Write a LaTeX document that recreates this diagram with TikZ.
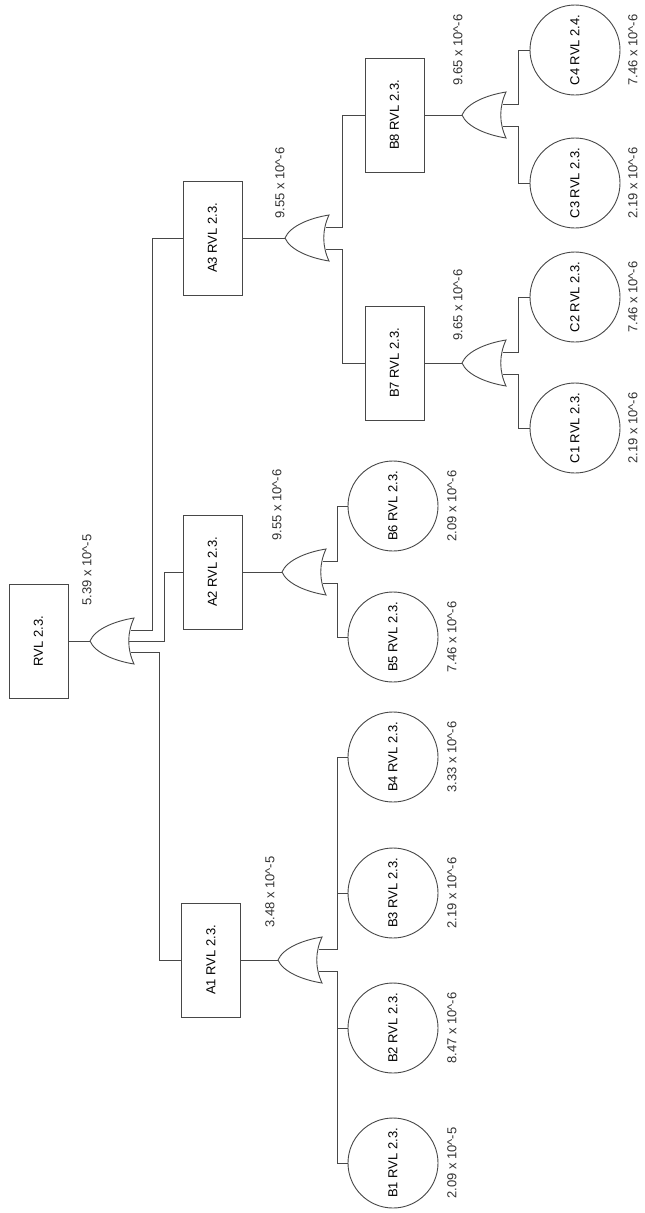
\documentclass[tikz,border=0pt]{standalone}
\usepackage{fontspec}
\setmainfont{Liberation Sans}
\usetikzlibrary{calc}

\newcommand{\fsz}{\fontsize{13}{15}\selectfont}
\newcommand{\rt}[1]{\rotatebox{90}{#1}}	%text read from bottom to top

\tikzset{
	wire/.style={draw=black!72, line width=0.9pt},
	evtbox/.style={wire, rectangle, minimum width=59pt, minimum height=114pt, inner sep=0pt, font=\fsz},
	basic/.style={wire, circle, minimum size=90pt, inner sep=0pt, font=\fsz},
	prob/.style={rotate=90, inner sep=0pt, font=\fsz, text=black!80},
	orgate/.pic={
		\draw[wire] (0,0) .. controls (5,-12) and (25,-20) .. (44,-23)
			.. controls (37,-8) and (37,8) .. (44,23)
			.. controls (25,20) and (5,12) .. (0,0);
		\coordinate (-out) at (0,0);
		\coordinate (-in1) at (41,-11);
		\coordinate (-in2) at (39,0);
		\coordinate (-in3) at (41,11);
	}
}

\begin{document}
\begin{tikzpicture}[x=1pt,y=-1pt]
	\useasboundingbox[fill=white] (0,0) rectangle (645,1213);
	\def\bx{393}	%x of the circles B1..B6
	\def\cx{575}	%x of the circles C1..C4

	%top event
	\node[evtbox] (top) at (38.5,641) {\rt{RVL 2.3.}};
	\pic (g0) at (90,641) {orgate};
	\node[prob] (p0) at (87,570) {5.39 x 10\textasciicircum-5};

	%intermediate events
	\node[evtbox] (A1) at (211,960) {\rt{A1 RVL 2.3.}};
	\node[evtbox] (A2) at (212.5,572) {\rt{A2 RVL 2.3.}};
	\node[evtbox] (A3) at (212.5,238) {\rt{A3 RVL 2.3.}};
	\node[evtbox] (B7) at (394.5,363) {\rt{B7 RVL 2.3.}};
	\node[evtbox] (B8) at (394.5,115) {\rt{B8 RVL 2.3.}};

	\pic (g1) at (278,960) {orgate};
	\pic (g2) at (282,572) {orgate};
	\pic (g3) at (285,238) {orgate};
	\pic (g7) at (462,363) {orgate};
	\pic (g8) at (462,115) {orgate};

	\node[prob] (p1) at (270,892) {3.48 x 10\textasciicircum-5};
	\node[prob] (p2) at (277,505) {9.55 x 10\textasciicircum-6};
	\node[prob] (p3) at (280,183) {9.55 x 10\textasciicircum-6};
	\node[prob] (p7) at (458,305) {9.65 x 10\textasciicircum-6};
	\node[prob] (p8) at (458,50) {9.65 x 10\textasciicircum-6};

	%basic events
	\foreach \i/\y/\v in {1/1163/2.09 x 10\textasciicircum-5, 2/1028/8.47 x 10\textasciicircum-6,
		3/893/2.19 x 10\textasciicircum-6, 4/757/3.33 x 10\textasciicircum-6,
		5/637/7.46 x 10\textasciicircum-6, 6/506/2.09 x 10\textasciicircum-6}{
		\node[basic] (B\i) at (\bx,\y) {\rt{B\i\ RVL 2.3.}};
		\node[prob] (q\i) at (452,\y) {\v};
	}
	\foreach \i/\y/\t/\v in {1/428/2.3./2.19 x 10\textasciicircum-6, 2/297/2.3./7.46 x 10\textasciicircum-6,
		3/183/2.3./2.19 x 10\textasciicircum-6, 4/50/2.4./7.46 x 10\textasciicircum-6}{
		\node[basic] (C\i) at (\cx,\y) {\rt{C\i\ RVL \t}};
		\node[prob] (r\i) at (633,\y) {\v};
	}

	%gate outputs
	\foreach \b/\g in {top/g0, A1/g1, A2/g2, A3/g3, B7/g7, B8/g8}
		\draw[wire] (\b.east) -- (\g-out);

	%gate inputs
	\draw[wire] (g0-in1) -- ++(21,0) |- (A3.west);
	\draw[wire] (g0-in2) -- ++(35,0) |- (A2.west);
	\draw[wire] (g0-in3) -- ++(28,0) |- (A1.west);

	\draw[wire] (g1-in1) -- ++(18,0) |- (B4.west);
	\draw[wire] (g1-in3) -- ++(18,0) |- (B1.west);
	\draw[wire] (B3.west) -- ++(-11,0);
	\draw[wire] (B2.west) -- ++(-11,0);

	\draw[wire] (g2-in1) -- ++(14,0) |- (B6.west);
	\draw[wire] (g2-in3) -- ++(14,0) |- (B5.west);

	\draw[wire] (g3-in1) -- ++(16,0) |- (B8.west);
	\draw[wire] (g3-in3) -- ++(16,0) |- (B7.west);

	\draw[wire] (g7-in1) -- ++(15,0) |- (C2.west);
	\draw[wire] (g7-in3) -- ++(15,0) |- (C1.west);
	\draw[wire] (g8-in1) -- ++(15,0) |- (C4.west);
	\draw[wire] (g8-in3) -- ++(15,0) |- (C3.west);
\end{tikzpicture}
\end{document}
